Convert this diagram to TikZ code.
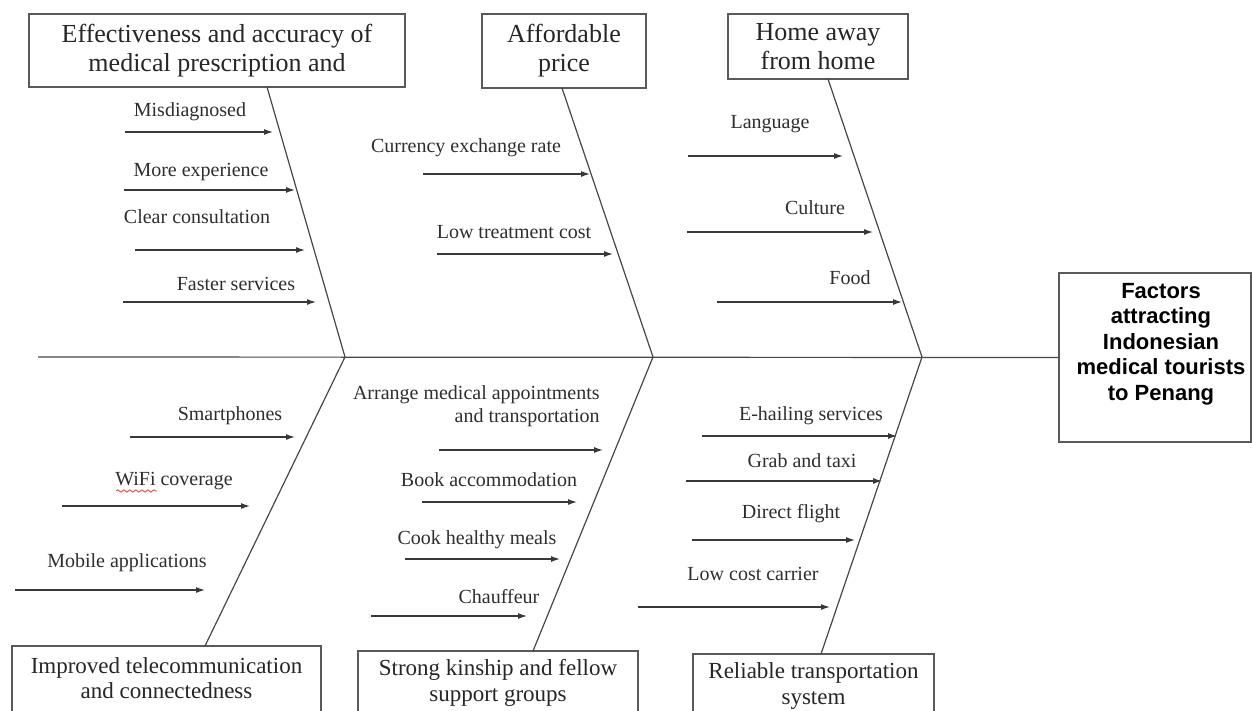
\documentclass[tikz,border=0pt]{standalone}
\usepackage{fontspec}
\setmainfont{Liberation Serif}
\newfontfamily\headfont{Liberation Sans}
\usetikzlibrary{arrows.meta,decorations.pathmorphing}
\begin{document}
\begin{tikzpicture}[x=0.5pt,y=-0.5pt,
  bone/.style={draw=black!72,line width=0.6pt},
  arr/.style={draw=black!78,line width=0.6pt,-{Latex[length=4.5pt,width=3pt]}},
  lbl/.style={font=\fontsize{10}{12}\selectfont,text=black!82,inner sep=0pt},
  catbox/.style={draw=black!65,line width=0.6pt,inner sep=0pt,align=center,
    font=\fontsize{13}{14.5}\selectfont,text=black!85},
  framebox/.style={draw=black!65,line width=0.6pt,inner sep=0pt},
  cattext/.style={inner sep=0pt,align=center,font=\fontsize{11.5}{12.7}\selectfont,text=black!85}]
\useasboundingbox (0,0) rectangle (1252,711);
\clip (0,0) rectangle (1252,711);
\fill[white] (0,0) rectangle (1252,711);

% category boxes (top)
\node[catbox,minimum width=188pt,minimum height=36.5pt] (c1) at (217,50.5)
  {Effectiveness and accuracy of\\medical prescription and};
\node[catbox,minimum width=82pt,minimum height=37pt] (c2) at (564,51)
  {Affordable\\price};
\node[catbox,minimum width=90pt,minimum height=32.5pt] (c3) at (818,46.5)
  {Home away\\from home};
% category boxes (bottom, running past the lower edge)
\node[framebox,minimum width=154.5pt,minimum height=35pt] (c4) at (166.5,681) {};
\node[cattext] (c4t) at (166.5,678) {Improved telecommunication\\and connectedness};
\node[framebox,minimum width=140pt,minimum height=33pt] (c5) at (498,684) {};
\node[cattext] (c5t) at (498,683) {Strong kinship and fellow\\support groups};
\node[framebox,minimum width=120.5pt,minimum height=32pt] (c6) at (813.5,686) {};
\node[cattext] (c6t) at (813.5,686) {Reliable transportation\\system};

% head
\node[framebox,minimum width=96pt,minimum height=84.5pt] (head) at (1155,357.5) {};
\node[font=\headfont\bfseries\fontsize{11}{12.8}\selectfont,align=center,inner sep=0pt]
  (headtxt) at (1161,344) {Factors\\attracting\\Indonesian\\medical tourists\\to Penang};

% spine and bones
\coordinate (s0) at (38,357);
\coordinate (j1) at (345,357);
\coordinate (j2) at (653,357);
\coordinate (j3) at (922,357);
\coordinate (t1) at (267,87);
\coordinate (t2) at (562,88);
\coordinate (t3) at (828,79);
\coordinate (b4) at (205,646);
\coordinate (b5) at (533,651);
\coordinate (b6) at (821,654);
\draw[bone] (s0) -- (head.west);
\draw[bone] (t1) -- (j1) -- (b4);
\draw[bone] (t2) -- (j2) -- (b5);
\draw[bone] (t3) -- (j3) -- (b6);

% group 1
\node[lbl] (l11) at (190,112) {Misdiagnosed};
\node[lbl] (l12) at (201,172) {More experience};
\node[lbl] (l13) at (197,217) {Clear consultation};
\node[lbl] (l14) at (236,284) {Faster services};
\coordinate (a11s) at (125,132); \coordinate (a11e) at (273,132);
\coordinate (a12s) at (124,190); \coordinate (a12e) at (295,190);
\coordinate (a13s) at (135,250); \coordinate (a13e) at (305,250);
\coordinate (a14s) at (123,302); \coordinate (a14e) at (316,302);
\draw[arr] (a11s) -- (a11e);
\draw[arr] (a12s) -- (a12e);
\draw[arr] (a13s) -- (a13e);
\draw[arr] (a14s) -- (a14e);

% group 2
\node[lbl] (l21) at (466,148) {Currency exchange rate};
\node[lbl] (l22) at (514,232) {Low treatment cost};
\coordinate (a21s) at (423,174); \coordinate (a21e) at (590,174);
\coordinate (a22s) at (437,254); \coordinate (a22e) at (613,254);
\draw[arr] (a21s) -- (a21e);
\draw[arr] (a22s) -- (a22e);

% group 3
\node[lbl] (l31) at (770,124) {Language};
\node[lbl] (l32) at (815,208) {Culture};
\node[lbl] (l33) at (850,278) {Food};
\coordinate (a31s) at (688,156); \coordinate (a31e) at (843,156);
\coordinate (a32s) at (687,232); \coordinate (a32e) at (873,232);
\coordinate (a33s) at (717,302); \coordinate (a33e) at (902,302);
\draw[arr] (a31s) -- (a31e);
\draw[arr] (a32s) -- (a32e);
\draw[arr] (a33s) -- (a33e);

% group 4
\node[lbl] (l41) at (230,416) {Smartphones};
\node[lbl] (l42) at (174,481) {WiFi coverage};
\node[lbl] (l43) at (127,563) {Mobile applications};
\coordinate (w1) at (116,491); \coordinate (w2) at (157,491);
\draw[red!80,line width=0.4pt,decorate,decoration={snake,amplitude=0.6pt,segment length=3pt}] (w1) -- (w2);
\coordinate (a41s) at (130,437); \coordinate (a41e) at (295,437);
\coordinate (a42s) at (62,506);  \coordinate (a42e) at (250,506);
\coordinate (a43s) at (15,590);  \coordinate (a43e) at (205,590);
\draw[arr] (a41s) -- (a41e);
\draw[arr] (a42s) -- (a42e);
\draw[arr] (a43s) -- (a43e);

% group 5
\node[lbl,align=right,anchor=east,font=\fontsize{10}{11.5}\selectfont] (l51) at (600,406)
  {Arrange medical appointments\\and transportation};
\node[lbl] (l52) at (489,480) {Book accommodation};
\node[lbl] (l53) at (477,540) {Cook healthy meals};
\node[lbl] (l54) at (499,597) {Chauffeur};
\coordinate (a51s) at (439,450); \coordinate (a51e) at (603,450);
\coordinate (a52s) at (422,502); \coordinate (a52e) at (577,502);
\coordinate (a53s) at (405,559); \coordinate (a53e) at (560,559);
\coordinate (a54s) at (371,616); \coordinate (a54e) at (527,616);
\draw[arr] (a51s) -- (a51e);
\draw[arr] (a52s) -- (a52e);
\draw[arr] (a53s) -- (a53e);
\draw[arr] (a54s) -- (a54e);

% group 6
\node[lbl] (l61) at (811,416) {E-hailing services};
\node[lbl] (l62) at (802,461) {Grab and taxi};
\node[lbl] (l63) at (791,514) {Direct flight};
\node[lbl] (l64) at (753,574) {Low cost carrier};
\coordinate (a61s) at (702,436); \coordinate (a61e) at (897,436);
\coordinate (a62s) at (686,481); \coordinate (a62e) at (882,481);
\coordinate (a63s) at (692,540); \coordinate (a63e) at (855,540);
\coordinate (a64s) at (638,607); \coordinate (a64e) at (830,607);
\draw[arr] (a61s) -- (a61e);
\draw[arr] (a62s) -- (a62e);
\draw[arr] (a63s) -- (a63e);
\draw[arr] (a64s) -- (a64e);
\end{tikzpicture}
\end{document}
